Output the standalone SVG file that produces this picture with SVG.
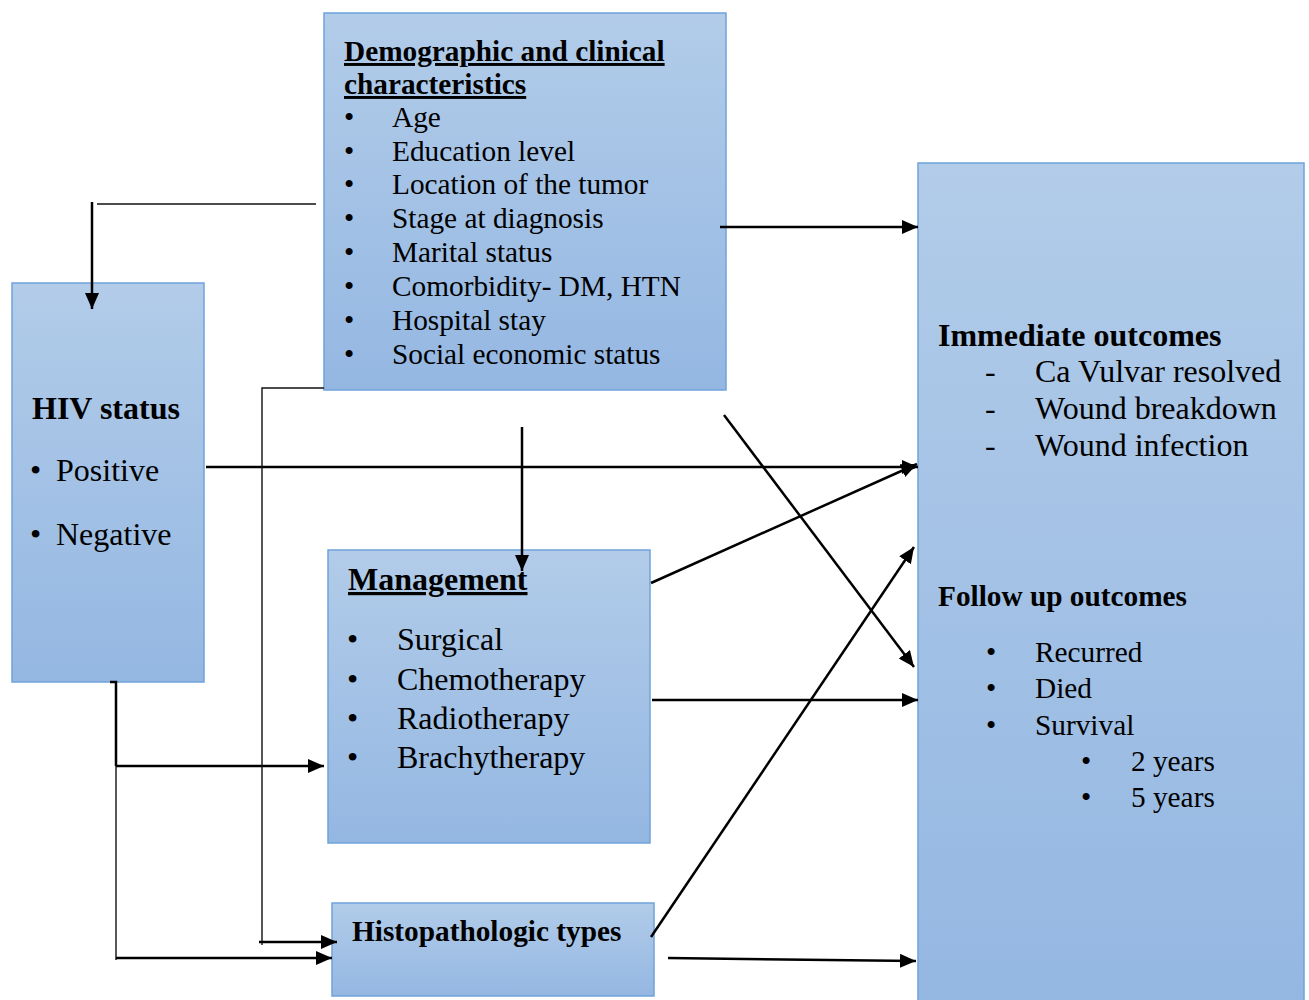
<svg xmlns="http://www.w3.org/2000/svg" width="1309" height="1000" viewBox="0 0 1309 1000">
<defs>
<linearGradient id="bg" x1="0" y1="0" x2="0" y2="1">
<stop offset="0" stop-color="#b2cce9"/>
<stop offset="1" stop-color="#94b7e2"/>
</linearGradient>
<marker id="ah" markerUnits="userSpaceOnUse" markerWidth="18" markerHeight="16" refX="16" refY="7" orient="auto">
<path d="M0,0 L16,7 L0,14 Z" fill="#000"/>
</marker>
<style>
.box{fill:url(#bg);stroke:#6fa3da;stroke-width:1.5}
text{font-family:"Liberation Serif","Times New Roman",serif;fill:#000}
.h{font-weight:bold}
.u{text-decoration:underline}
.s29{font-size:29.3px}
.s32{font-size:32px}
.k{stroke:#000;stroke-width:2.5;fill:none}
.n{stroke:#111;stroke-width:1.4;fill:none}
</style>
</defs>
<g id="demographic">
<rect class="box" x="324" y="13" width="402" height="377"/>
<text class="h u s29" x="344" y="61">Demographic and clinical</text>
<text class="h u s29" x="344" y="94">characteristics</text>
<g class="s29">
<text x="344" y="127">•</text><text x="392" y="127">Age</text>
<text x="344" y="161">•</text><text x="392" y="161">Education level</text>
<text x="344" y="194">•</text><text x="392" y="194">Location of the tumor</text>
<text x="344" y="228">•</text><text x="392" y="228">Stage at diagnosis</text>
<text x="344" y="262">•</text><text x="392" y="262">Marital status</text>
<text x="344" y="296">•</text><text x="392" y="296">Comorbidity- DM, HTN</text>
<text x="344" y="330">•</text><text x="392" y="330">Hospital stay</text>
<text x="344" y="364">•</text><text x="392" y="364">Social economic status</text>
</g>
</g>
<g id="hiv">
<rect class="box" x="12" y="283" width="192" height="399"/>
<text class="h s32" x="32" y="419">HIV status</text>
<g class="s32">
<text x="30" y="481">•</text><text x="56" y="481">Positive</text>
<text x="30" y="545">•</text><text x="56" y="545">Negative</text>
</g>
</g>
<g id="management">
<rect class="box" x="328" y="550" width="322" height="293"/>
<text class="h u s32" x="348" y="590">Management</text>
<g class="s32">
<text x="347" y="650">•</text><text x="397" y="650">Surgical</text>
<text x="347" y="690">•</text><text x="397" y="690">Chemotherapy</text>
<text x="347" y="729">•</text><text x="397" y="729">Radiotherapy</text>
<text x="347" y="768">•</text><text x="397" y="768">Brachytherapy</text>
</g>
</g>
<g id="histopathologic">
<rect class="box" x="332" y="903" width="322" height="93"/>
<text class="h s29" x="352" y="941">Histopathologic types</text>
</g>
<g id="outcomes">
<rect class="box" x="918" y="163" width="386" height="845"/>
<text class="h s32" x="938" y="346">Immediate outcomes</text>
<g class="s32">
<text x="985" y="382">-</text><text x="1035" y="382">Ca Vulvar resolved</text>
<text x="985" y="419">-</text><text x="1035" y="419">Wound breakdown</text>
<text x="985" y="456">-</text><text x="1035" y="456">Wound infection</text>
</g>
<text class="h s29" x="938" y="606">Follow up outcomes</text>
<g class="s29">
<text x="986" y="662">•</text><text x="1035" y="662">Recurred</text>
<text x="986" y="698">•</text><text x="1035" y="698">Died</text>
<text x="986" y="735">•</text><text x="1035" y="735">Survival</text>
<text x="1081" y="771">•</text><text x="1131" y="771">2 years</text>
<text x="1081" y="807">•</text><text x="1131" y="807">5 years</text>
</g>
</g>
<g id="connectors">
<line class="n" x1="316" y1="204" x2="97" y2="204"/>
<line class="k" x1="92" y1="202" x2="92" y2="309" marker-end="url(#ah)"/>
<line class="k" x1="720" y1="227" x2="918" y2="227" marker-end="url(#ah)"/>
<line class="k" x1="206" y1="467" x2="918" y2="467" marker-end="url(#ah)"/>
<line class="k" x1="651" y1="583" x2="917" y2="464" marker-end="url(#ah)"/>
<line class="k" x1="724" y1="415" x2="914" y2="667" marker-end="url(#ah)"/>
<line class="k" x1="651" y1="937" x2="914" y2="547" marker-end="url(#ah)"/>
<line class="k" x1="652" y1="700" x2="918" y2="700" marker-end="url(#ah)"/>
<line class="k" x1="668" y1="958" x2="916" y2="961" marker-end="url(#ah)"/>
<line class="k" x1="522" y1="427" x2="522" y2="571" marker-end="url(#ah)"/>
<polyline class="k" points="110,682 116,682 116,766"/>
<line class="n" x1="116" y1="766" x2="116" y2="960"/>
<line class="k" x1="116" y1="766" x2="324" y2="766" marker-end="url(#ah)"/>
<line class="k" x1="116" y1="958" x2="332" y2="958" marker-end="url(#ah)"/>
<polyline class="n" points="324,388 262,388 262,945"/>
<line class="k" x1="259" y1="942" x2="337" y2="942" marker-end="url(#ah)"/>
</g>
</svg>
